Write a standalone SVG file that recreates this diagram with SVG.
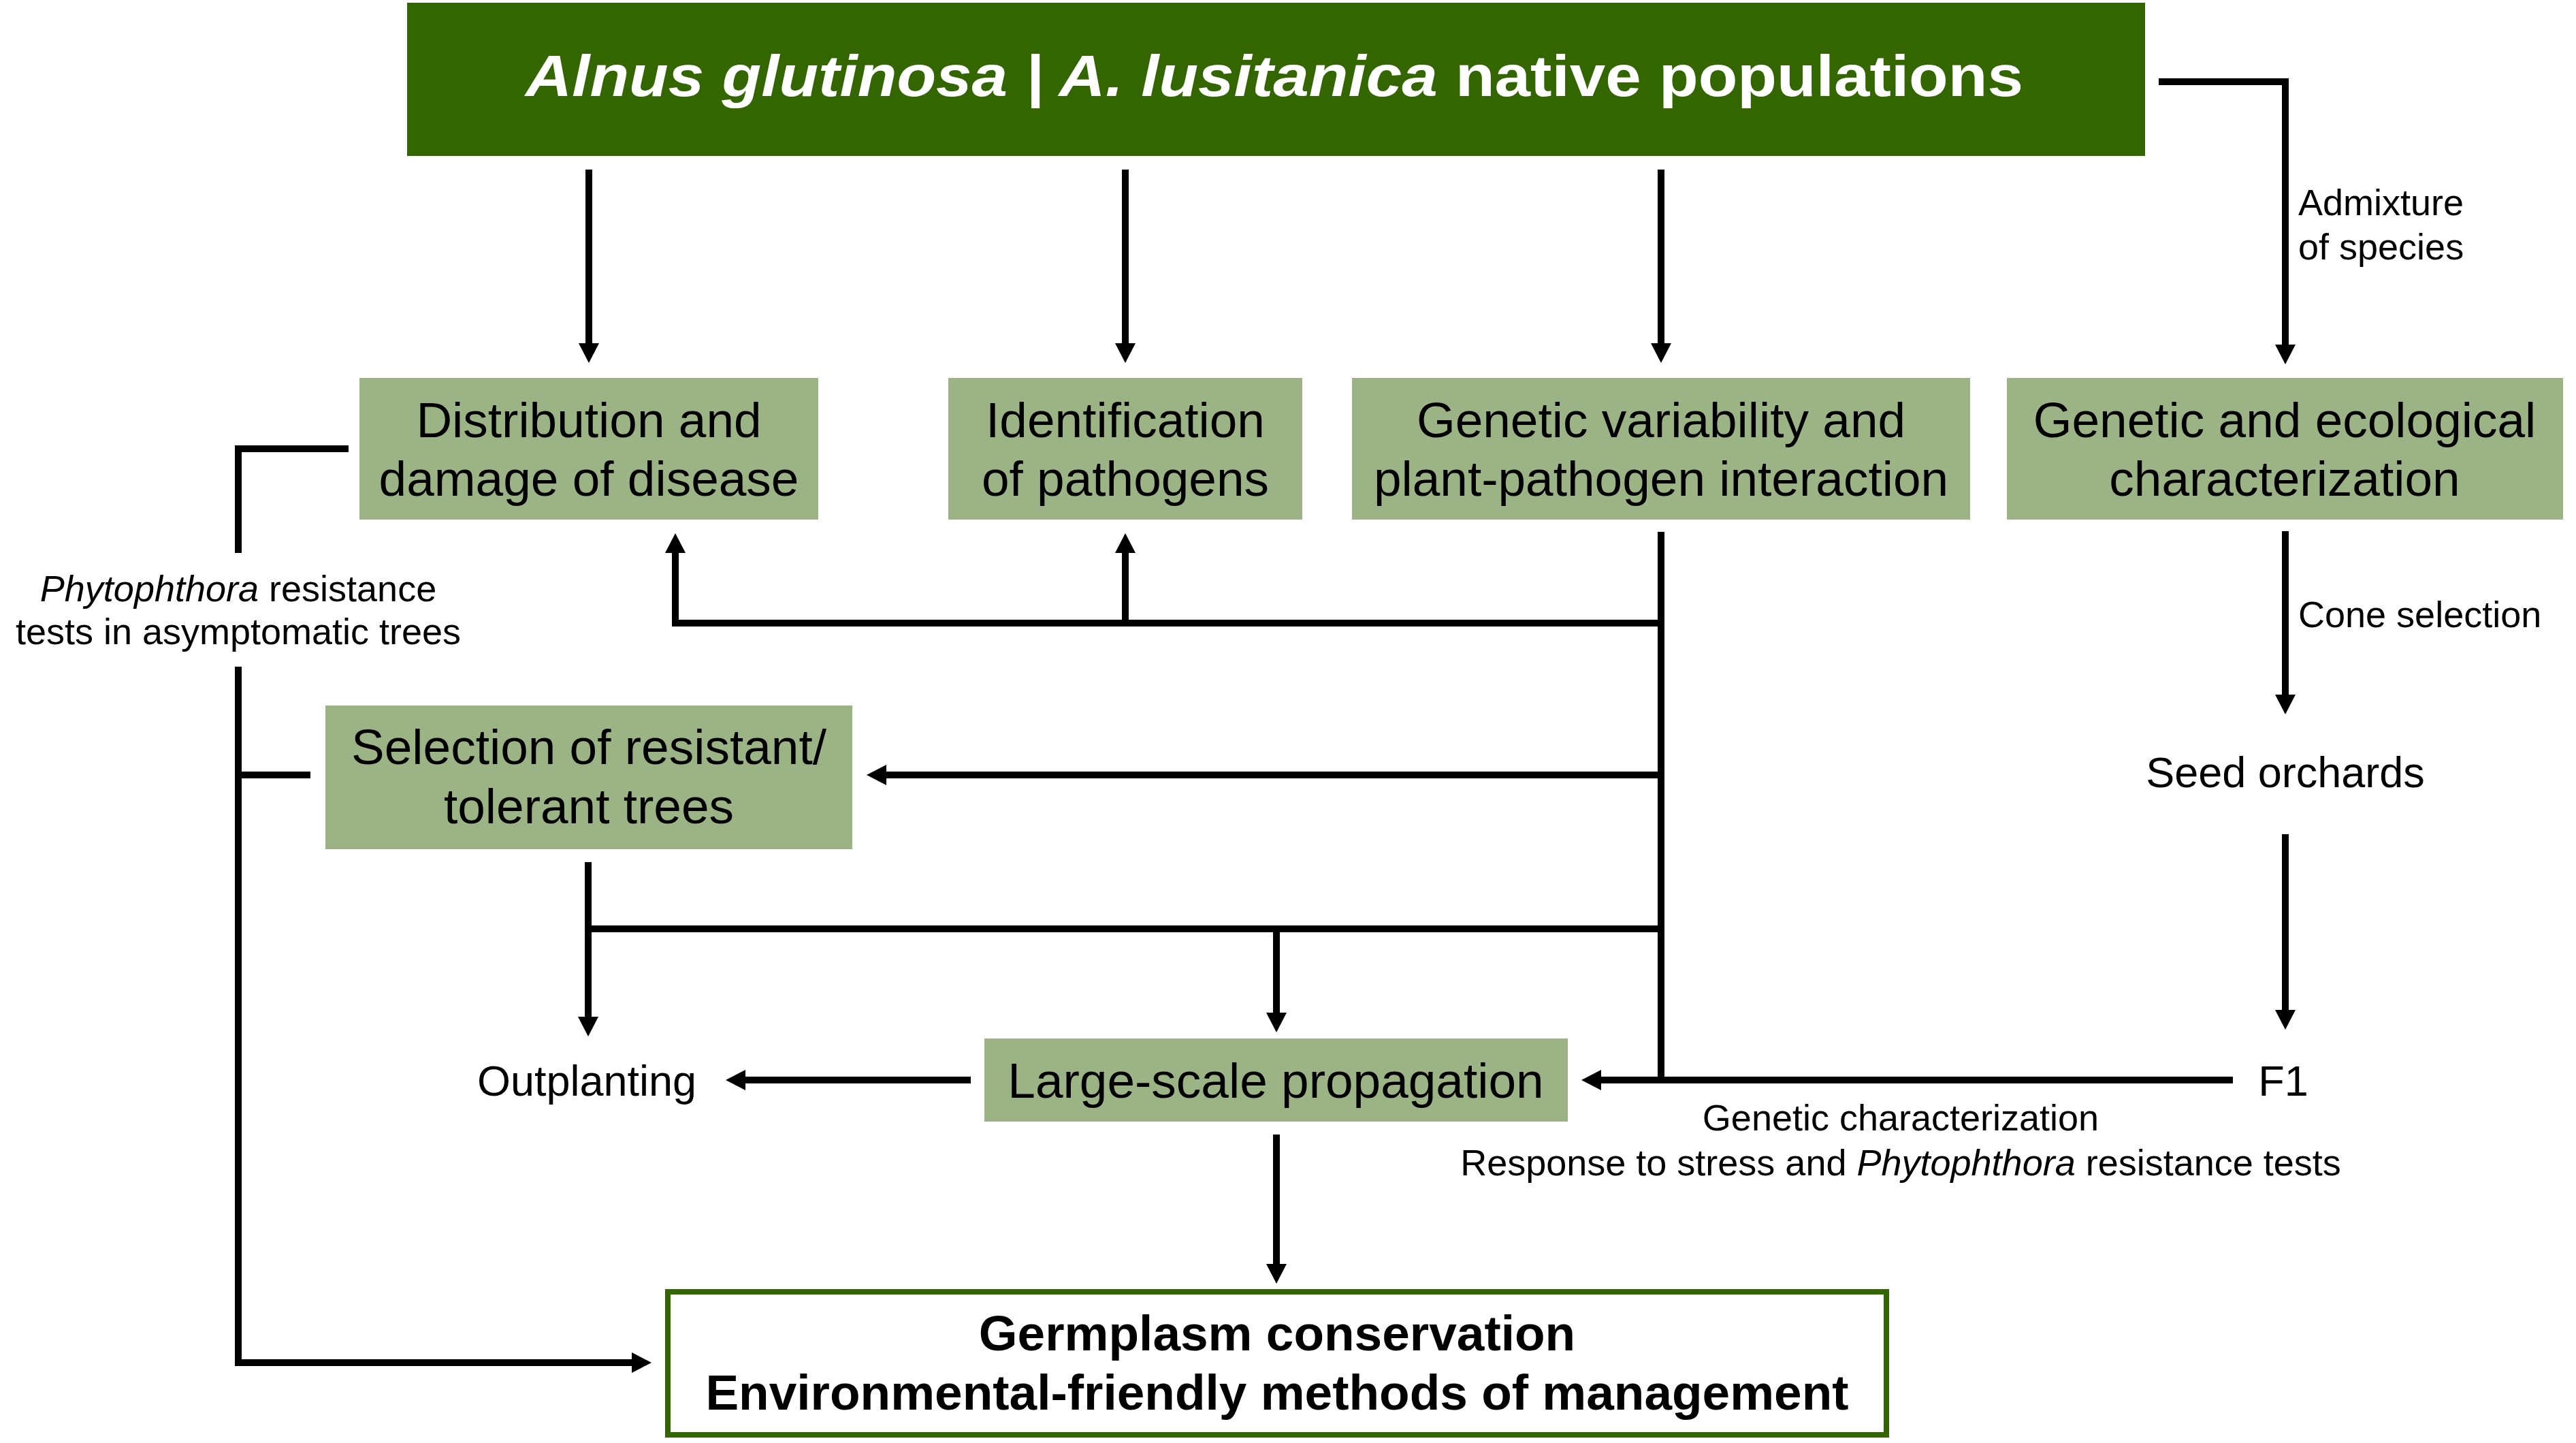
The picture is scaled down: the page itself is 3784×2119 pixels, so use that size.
<svg xmlns="http://www.w3.org/2000/svg" width="3784" height="2119" viewBox="0 0 3784 2119">
<style>
text{font-family:"Liberation Sans",Arial,sans-serif;fill:#000}
.box{fill:#9bb385}
.bt{font-size:73px;text-anchor:middle}
.pt{font-size:63px;text-anchor:middle}
.lb{font-size:54px}
.lbc{font-size:54px;text-anchor:middle}
.c{fill:none;stroke:#000;stroke-width:10;stroke-linejoin:miter;stroke-linecap:butt}
.a{marker-end:url(#ah)}
</style>
<defs>
<marker id="ah" markerUnits="userSpaceOnUse" markerWidth="30" markerHeight="30" viewBox="0 0 29 30" refX="1" refY="15" orient="auto">
<path d="M0,0 L29,15 L0,30 z" fill="#000"/>
</marker>
</defs>
<rect width="3784" height="2119" fill="#fff"/>

<g id="connectors">
<path class="c a" d="M865,249 V505"/>
<path class="c a" d="M1653,249 V505"/>
<path class="c a" d="M2440,249 V505"/>
<path class="c a" d="M3171,120 H3357 V507"/>
<path class="c" d="M2440,781 V1591"/>
<path class="c a" d="M2445,915 H992 V811"/>
<path class="c a" d="M1653,915 V811"/>
<path class="c a" d="M2440,1138 H1301"/>
<path class="c" d="M859,1364 H2445"/>
<path class="c a" d="M864,1266 V1494"/>
<path class="c a" d="M1875,1364 V1488"/>
<path class="c a" d="M3280,1586 H2351"/>
<path class="c a" d="M1426,1586 H1094"/>
<path class="c a" d="M1875,1666 V1857"/>
<path class="c a" d="M3357,780 V1021"/>
<path class="c a" d="M3357,1225 V1484"/>
<path class="c" d="M512,659 H350 V812"/>
<path class="c a" d="M350,979 V2001 H929"/>
<path class="c" d="M456,1138 H350"/>
</g>

<g id="n-top">
<rect x="598" y="4" width="2553" height="225" fill="#336600"/>
<text x="772" y="141" font-size="86" font-weight="bold" textLength="2200" lengthAdjust="spacingAndGlyphs" style="fill:#fff"><tspan font-style="italic">Alnus glutinosa | A. lusitanica</tspan> native populations</text>
</g>

<g id="n-distribution">
<rect class="box" x="528" y="555" width="674" height="208"/>
<text class="bt" x="865" y="642">Distribution and</text>
<text class="bt" x="865" y="728">damage of disease</text>
</g>

<g id="n-identification">
<rect class="box" x="1393" y="555" width="520" height="208"/>
<text class="bt" x="1653" y="642">Identification</text>
<text class="bt" x="1653" y="728">of pathogens</text>
</g>

<g id="n-genvar">
<rect class="box" x="1986" y="555" width="908" height="208"/>
<text class="bt" x="2440" y="642">Genetic variability and</text>
<text class="bt" x="2440" y="728">plant-pathogen interaction</text>
</g>

<g id="n-geneco">
<rect class="box" x="2948" y="555" width="817" height="208"/>
<text class="bt" x="3356" y="642">Genetic and ecological</text>
<text class="bt" x="3356" y="728">characterization</text>
</g>

<g id="n-selection">
<rect class="box" x="478" y="1036" width="774" height="211"/>
<text class="bt" x="865" y="1122">Selection of resistant/</text>
<text class="bt" x="865" y="1209">tolerant trees</text>
</g>

<g id="n-seed">
<text class="pt" x="3357" y="1156">Seed orchards</text>
</g>

<g id="n-f1">
<text class="pt" x="3354" y="1609">F1</text>
</g>

<g id="n-outplanting">
<text class="pt" x="862" y="1609">Outplanting</text>
</g>

<g id="n-lsp">
<rect class="box" x="1446" y="1525" width="857" height="122"/>
<text class="bt" x="1874" y="1612">Large-scale propagation</text>
</g>

<g id="n-germplasm">
<rect x="981" y="1897" width="1790" height="210" fill="#fff" stroke="#336600" stroke-width="8"/>
<text class="bt" x="1876" y="1983" font-weight="bold">Germplasm conservation</text>
<text class="bt" x="1876" y="2070" font-weight="bold">Environmental-friendly methods of management</text>
</g>

<g id="labels">
<text class="lb" x="3376" y="316">Admixture</text>
<text class="lb" x="3376" y="381">of species</text>
<text class="lb" x="3376" y="921">Cone selection</text>
<text class="lbc" x="350" y="883"><tspan font-style="italic">Phytophthora</tspan> resistance</text>
<text class="lbc" x="350" y="946">tests in asymptomatic trees</text>
<text class="lbc" x="2792" y="1660">Genetic characterization</text>
<text class="lbc" x="2792" y="1726">Response to stress and <tspan font-style="italic">Phytophthora</tspan> resistance tests</text>
</g>
</svg>
